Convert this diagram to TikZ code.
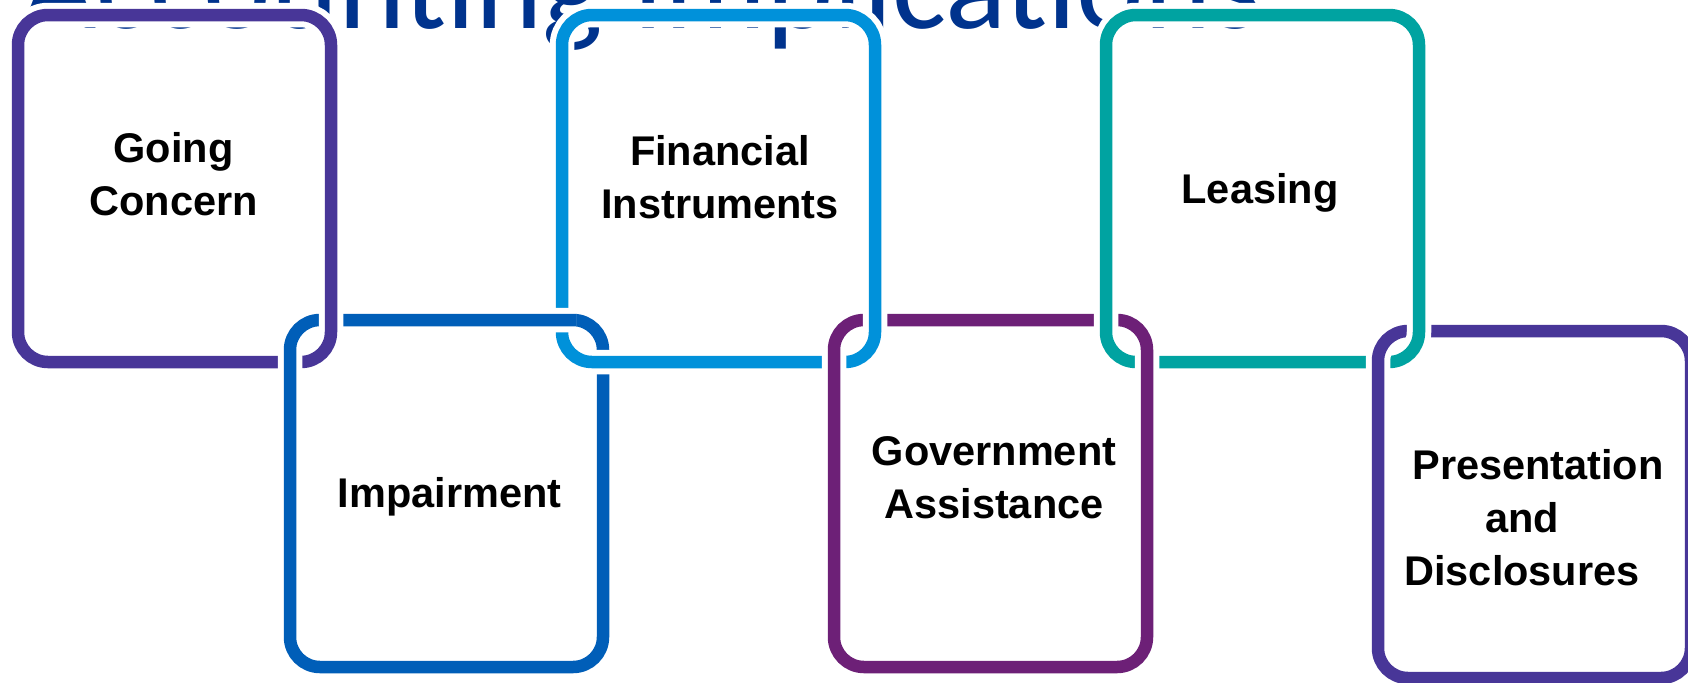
\documentclass[tikz,border=0pt]{standalone}
\usepackage{fontspec}
\newfontfamily\cardfont{Liberation Sans}
\newfontfamily\headfont{Carlito}
\usetikzlibrary{positioning}
\definecolor{kpmgblue}{HTML}{00338D}
\definecolor{cGoing}{HTML}{483698}
\definecolor{cImpair}{HTML}{005EB8}
\definecolor{cFinance}{HTML}{0091DA}
\definecolor{cGovern}{HTML}{6D2077}
\definecolor{cLeasing}{HTML}{00A3A1}
\definecolor{cPresent}{HTML}{483698}

\begin{document}
\begin{tikzpicture}[x=0.5pt,y=-0.5pt,
    cardline/.style={draw=#1,line width=6.25pt,rounded corners=15pt,
        preaction={draw=white,line width=12.25pt}},
    card/.style={cardline=#1,rectangle,minimum width=156.5pt,
        minimum height=173.5pt,inner sep=0pt,outer sep=0pt},
    cardtext/.style={font=\cardfont\bfseries\fontsize{20.75pt}{26.5pt}\selectfont,
        align=center,inner sep=0pt},
    heading/.style={font=\headfont\fontsize{64pt}{70pt}\selectfont,
        text=kpmgblue,inner sep=0pt}]

                \useasboundingbox (0,0) rectangle (1688,682);
                \clip (0,0) rectangle (1688,682);

                \node[heading,anchor=base west] (title) at (22,28) {Accounting Implications};

                \node[card=cGoing] (going) at (174.5,188.5) {};

                \node[card=cImpair] (impair) [below right=-21pt and -20.5pt of going] {};

                \node[card=cFinance] (finance) [above right=-21pt and -20.5pt of impair] {};

                \node[card=cGovern] (govern) [below right=-21pt and -20.5pt of finance] {};

                \node[card=cLeasing] (leasing) [above right=-21pt and -20.5pt of govern] {};

                \node[card=cPresent] (present) [below right=-15.5pt and -20.5pt of leasing] {};

                

                \coordinate (k1) at (going.east |- impair.north);
                \coordinate (k2) at (finance.west |- impair.north);
                \coordinate (k3) at (finance.east |- govern.north);
                \coordinate (k4) at (govern.east |- leasing.south);
                \coordinate (k5) at (leasing.east |- present.north);

                \foreach \k/\b/\c in {k1/going/cGoing,k2/impair/cImpair,k3/finance/cFinance,
                                      k4/govern/cGovern,k5/leasing/cLeasing}{
                  \begin{scope}
                    \clip (\k) ++(-14,-14) rectangle ++(28,28);
                    \draw[cardline=\c] (\b.north west) rectangle (\b.south east);
                  \end{scope}
                }

                

                \node[cardtext] (t-going) at ([shift={(-1,-14)}]going.center) {Going\\Concern};

                \node[cardtext] (t-impair) at ([shift={(3,3.5)}]impair.center) {Impairment};

                \node[cardtext] (t-finance) at ([shift={(1.5,-11)}]finance.center) {Financial\\Instruments};

                \node[cardtext] (t-govern) at ([shift={(3.5,-16)}]govern.center) {Government\\Assistance};

                \node[cardtext] (t-leasing) at ([shift={(-2.5,4.5)}]leasing.center) {Leasing};

                \node[cardtext] (t-present) at ([shift={(-12.5,13.5)}]present.center) {\hspace*{16pt}Presentation\\and\\Disclosures};

            \end{tikzpicture}
\end{document}
